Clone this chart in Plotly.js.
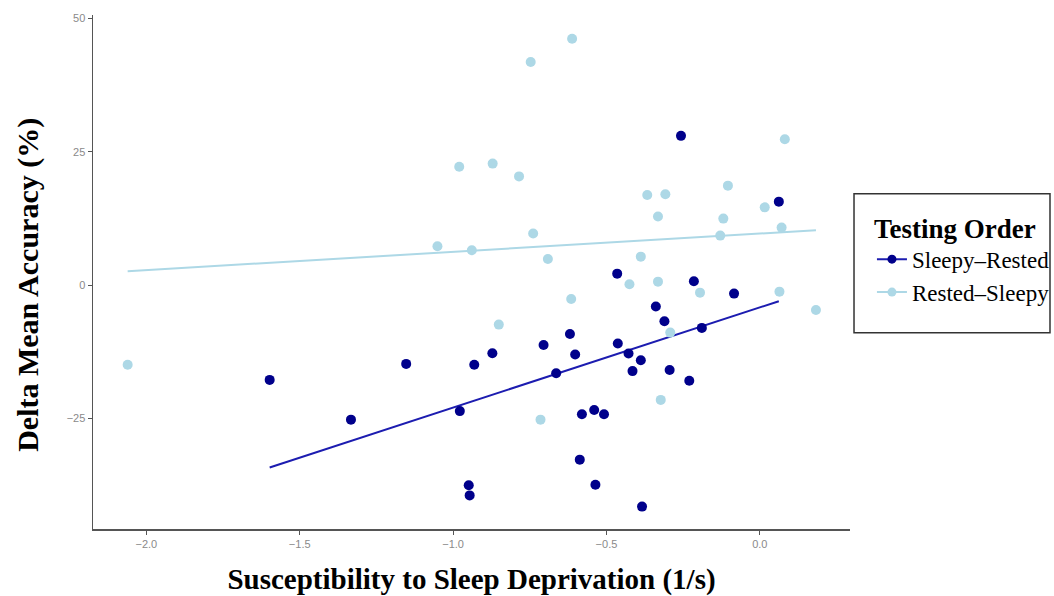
<!DOCTYPE html>
<html>
<head>
<meta charset="utf-8">
<script src="https://cdn.plot.ly/plotly-3.0.1.min.js"></script>
<style>html,body{margin:0;padding:0;background:#fff;}#chart{width:1054px;height:596px;}</style>
</head>
<body>
<div id="chart"></div>
<script>
// Sleepy–Rested group
var sleepyRestedX = [-1.598, -1.333, -1.153, -0.931, -0.872, -0.978, -0.705, -0.619, -0.602, -0.465, -0.463, -0.664, -0.215, -0.084, -0.339, -0.311, -0.189, -0.428, -0.388, -0.415, -0.294, -0.230, -0.257, 0.062, -0.580, -0.540, -0.508, -0.587, -0.536, -0.949, -0.946, -0.384];
var sleepyRestedY = [-17.75, -25.2, -14.75, -14.9, -12.75, -23.6, -11.19, -9.13, -13.0, 2.17, -10.94, -16.5, 0.75, -1.57, -4.0, -6.75, -8.0, -12.8, -14.06, -16.1, -15.9, -17.9, 28.0, 15.67, -24.2, -23.4, -24.2, -32.7, -37.4, -37.5, -39.4, -41.5];
// Rested–Sleepy group
var restedSleepyX = [-2.061, -0.747, -0.612, -0.980, -0.871, -0.785, -0.367, -0.308, -0.332, -0.739, -1.051, -0.939, -0.691, -0.388, -0.425, -0.332, -0.195, 0.064, 0.183, -0.292, 0.0815, -0.104, -0.119, 0.016, 0.071, -0.129, -0.615, -0.851, -0.715, -0.323];
var restedSleepyY = [-14.9, 41.85, 46.2, 22.2, 22.8, 20.4, 16.9, 17.05, 12.9, 9.7, 7.3, 6.56, 4.93, 5.36, 0.19, 0.67, -1.39, -1.2, -4.63, -8.88, 27.36, 18.67, 12.49, 14.6, 10.8, 9.3, -2.57, -7.38, -25.2, -21.5];
var groupNames = ["Sleepy\u2013Rested", "Rested\u2013Sleepy"];
var xTickVals = [-2.0, -1.5, -1.0, -0.5, 0.0];
var yTickVals = [-25, 0, 25, 50];
var xTitle = 'Susceptibility to Sleep Deprivation (1/s)';
var yTitle = 'Delta Mean Accuracy (%)';
var legendTitle = 'Testing Order';

function olsLine(xs, ys) {
  var n = xs.length, mx = 0, my = 0;
  for (var i = 0; i < n; i++) { mx += xs[i]; my += ys[i]; }
  mx /= n; my /= n;
  var sxy = 0, sxx = 0;
  for (var j = 0; j < n; j++) { sxy += (xs[j]-mx)*(ys[j]-my); sxx += (xs[j]-mx)*(xs[j]-mx); }
  var b = sxy/sxx, a = my - b*mx;
  var x0 = Math.min.apply(null, xs), x1 = Math.max.apply(null, xs);
  return {x: [x0, x1], y: [a + b*x0, a + b*x1]};
}

var dark = '#00008B', light = '#ADD8E6';
var fitA = olsLine(sleepyRestedX, sleepyRestedY);
var fitB = olsLine(restedSleepyX, restedSleepyY);
var serif = 'Liberation Serif, Times New Roman, serif';

var traces = [
  {x: fitB.x, y: fitB.y, mode: 'lines', line: {color: light, width: 2}, showlegend: false, hoverinfo: 'skip'},
  {x: fitA.x, y: fitA.y, mode: 'lines', line: {color: '#1c1cb0', width: 2}, showlegend: false, hoverinfo: 'skip'},
  {x: restedSleepyX, y: restedSleepyY, mode: 'markers', marker: {color: light, size: 10}, showlegend: false},
  {x: sleepyRestedX, y: sleepyRestedY, mode: 'markers', marker: {color: dark, size: 10}, showlegend: false},
  {x: [null], y: [null], mode: 'lines+markers', name: groupNames[0], marker: {color: dark, size: 9}, line: {color: '#1c1cb0', width: 2}},
  {x: [null], y: [null], mode: 'lines+markers', name: groupNames[1], marker: {color: light, size: 9}, line: {color: light, width: 2}}
];

var layout = {
  width: 1054, height: 596,
  margin: {l: 93, r: 204, t: 15, b: 67, autoexpand: false},
  paper_bgcolor: '#fff', plot_bgcolor: '#fff',
  showlegend: true,
  xaxis: {
    range: [-2.174, 0.294], tickvals: xTickVals, tickformat: '.1f',
    showgrid: false, zeroline: false, showline: true, linecolor: '#555', linewidth: 1.5,
    ticks: 'outside', ticklen: 4, tickcolor: '#555', tickwidth: 1,
    tickfont: {family: 'Liberation Sans, Arial, sans-serif', size: 11, color: '#8a8a8a'},
    title: {text: xTitle, standoff: 20,
      font: {family: serif, size: 29, color: '#000', weight: 'bold'}}
  },
  yaxis: {
    range: [-45.7, 50.66], tickvals: yTickVals,
    showgrid: false, zeroline: false, showline: true, linecolor: '#555', linewidth: 1.5,
    ticks: 'outside', ticklen: 4, tickcolor: '#555', tickwidth: 1,
    tickfont: {family: 'Liberation Sans, Arial, sans-serif', size: 11, color: '#8a8a8a'}
  },
  annotations: [{
    text: yTitle, xref: 'paper', yref: 'paper', x: 0, y: 0.475,
    xanchor: 'center', yanchor: 'middle', textangle: -90, xshift: -65, showarrow: false,
    font: {family: serif, size: 30, color: '#000', weight: 'bold'}
  }],
  shapes: [{
    type: 'rect', xref: 'paper', yref: 'paper', x0: 1.0053, x1: 1.2642, y0: 0.3817, y1: 0.652,
    line: {color: '#333', width: 1.5}, fillcolor: 'rgba(0,0,0,0)'
  }],
  legend: {
    x: 1.029, y: 0.635, xanchor: 'left', yanchor: 'top',
    borderwidth: 0, bgcolor: 'rgba(0,0,0,0)',
    font: {family: serif, size: 23, color: '#000'},
    title: {text: legendTitle, font: {family: serif, size: 27, color: '#000', weight: 'bold'}},
    tracegroupgap: 0, itemwidth: 30
  }
};

Plotly.newPlot('chart', traces, layout, {displayModeBar: false, staticPlot: true});
</script>
</body>
</html>
